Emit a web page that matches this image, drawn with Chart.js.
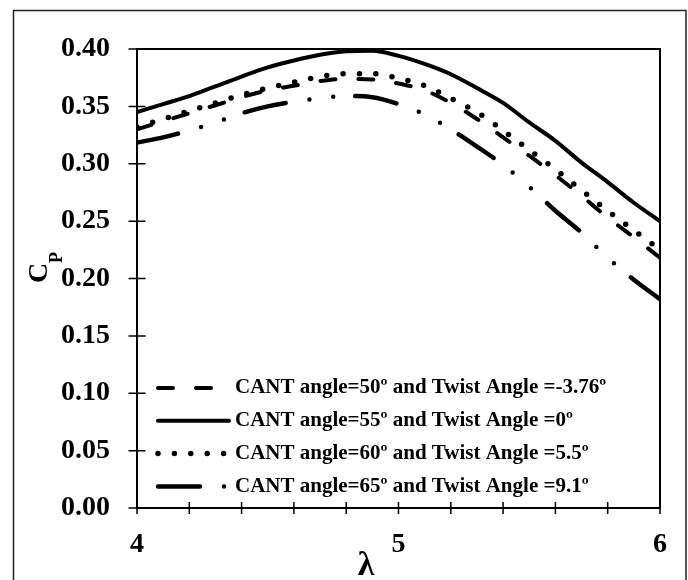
<!DOCTYPE html>
<html lang="en">
<head>
    <meta charset="UTF-8">
    <title>Cp vs tip speed ratio</title>
    <script src="https://cdn.jsdelivr.net/npm/chart.js"></script>
    <style>
        body { margin: 0; background: #fff; }
    </style>
</head>
<body>
    <canvas id="myChart" width="688" height="580"></canvas>
    <script>
        // tip speed ratio
        var lambdaValues = [4.0, 4.1, 4.2, 4.3, 4.4, 4.5, 4.6, 4.7, 4.8, 4.9, 5.0,
                            5.1, 5.2, 5.3, 5.4, 5.5, 5.6, 5.7, 5.8, 5.9, 6.0];
        // power coefficient, one array per cant angle
        var cpCant50 = [0.330, 0.337, 0.344, 0.351, 0.358, 0.364, 0.368, 0.372, 0.374, 0.3735, 0.370,
                        0.364, 0.353, 0.339, 0.323, 0.307, 0.290, 0.272, 0.253, 0.236, 0.218];
        var cpCant55 = [0.345, 0.352, 0.359, 0.3675, 0.376, 0.384, 0.390, 0.395, 0.398, 0.3985, 0.394,
                        0.387, 0.378, 0.366, 0.353, 0.336, 0.320, 0.301, 0.284, 0.266, 0.250];
        var cpCant60 = [0.332, 0.339, 0.346, 0.353, 0.360, 0.366, 0.371, 0.376, 0.3785, 0.3785, 0.3745,
                        0.368, 0.357, 0.345, 0.329, 0.312, 0.295, 0.277, 0.259, 0.242, 0.225];
        var cpCant65 = [0.3185, 0.323, 0.329, 0.336, 0.344, 0.350, 0.354, 0.357, 0.359, 0.358, 0.352,
                        0.343, 0.330, 0.315, 0.299, 0.280, 0.259, 0.240, 0.218, 0.199, 0.182];
        var seriesLabels = [
            'CANT angle=50\u00ba and Twist Angle =-3.76\u00ba',
            'CANT angle=55\u00ba and Twist Angle =0\u00ba',
            'CANT angle=60\u00ba and Twist Angle =5.5\u00ba',
            'CANT angle=65\u00ba and Twist Angle =9.1\u00ba'
        ];
        var xTickLabels = [4, 5, 6];

        var serif = "'Liberation Serif', 'Times New Roman', serif";

        function toPoints(values) {
            return values.map(function(v, i) { return { x: lambdaValues[i], y: v }; });
        }

        // frame, crossing ticks, legend inside the plot and axis titles
        var decor = {
            id: 'decor',
            beforeDraw: function(chart) {
                var ctx = chart.ctx;
                ctx.save();
                ctx.fillStyle = '#fff';
                ctx.fillRect(0, 0, chart.width, chart.height);
                ctx.strokeStyle = '#222';
                ctx.lineWidth = 1.5;
                ctx.strokeRect(13.5, 10.5, 672.5, 620);
                ctx.restore();
            },
            afterDraw: function(chart) {
                var ctx = chart.ctx, a = chart.chartArea;
                var xs = chart.scales.x, ys = chart.scales.y;
                ctx.save();
                ctx.strokeStyle = '#000';
                ctx.fillStyle = '#000';
                ctx.lineWidth = 2;
                ctx.strokeRect(a.left, a.top, a.right - a.left, a.bottom - a.top);

                ctx.beginPath();
                ys.ticks.forEach(function(t) {
                    var py = ys.getPixelForValue(t.value);
                    ctx.moveTo(a.left - 8.5, py);
                    ctx.lineTo(a.left + 8.5, py);
                });
                xs.ticks.forEach(function(t) {
                    var px = xs.getPixelForValue(t.value);
                    ctx.moveTo(px, a.bottom - 6);
                    ctx.lineTo(px, a.bottom + 6);
                });
                ctx.lineWidth = 1.5;
                ctx.stroke();

                // legend
                ctx.font = 'bold 21px ' + serif;
                ctx.textAlign = 'left';
                ctx.textBaseline = 'middle';
                chart.data.datasets.forEach(function(ds, i) {
                    var y = a.bottom - 120 + i * 32.8;
                    ctx.beginPath();
                    ctx.setLineDash(ds.borderDash || []);
                    ctx.lineDashOffset = 0;
                    ctx.lineCap = 'round';
                    ctx.lineWidth = ds.borderWidth;
                    ctx.moveTo(a.left + 21, y);
                    ctx.lineTo(a.left + 92, y);
                    ctx.stroke();
                    ctx.setLineDash([]);
                    ctx.fillText(ds.label, a.left + 98, y);
                });

                // x title
                ctx.font = 'bold 34px ' + serif;
                ctx.textAlign = 'center';
                ctx.textBaseline = 'alphabetic';
                ctx.fillText('\u03bb', a.left + 229, a.bottom + 67);

                // y title with subscript
                ctx.translate(47, 283);
                ctx.rotate(-Math.PI / 2);
                ctx.textAlign = 'left';
                ctx.font = 'bold 28px ' + serif;
                ctx.fillText('C', 0, 0);
                ctx.font = 'bold 18px ' + serif;
                ctx.fillText('P', 20, 15);
                ctx.restore();
            }
        };

        var ctx = document.getElementById('myChart').getContext('2d');
        var myChart = new Chart(ctx, {
            type: 'line',
            data: {
                datasets: [{
                    label: seriesLabels[0],
                    data: toPoints(cpCant50),
                    borderColor: '#000',
                    borderWidth: 4,
                    borderDash: [15, 23],
                    borderCapStyle: 'round'
                }, {
                    label: seriesLabels[1],
                    data: toPoints(cpCant55),
                    borderColor: '#000',
                    borderWidth: 4
                }, {
                    label: seriesLabels[2],
                    data: toPoints(cpCant60),
                    borderColor: '#000',
                    borderWidth: 5.5,
                    borderDash: [0, 16.4],
                    borderCapStyle: 'round'
                }, {
                    label: seriesLabels[3],
                    data: toPoints(cpCant65),
                    borderColor: '#000',
                    borderWidth: 4.5,
                    borderDash: [42, 24, 0, 24, 0, 22],
                    borderCapStyle: 'round'
                }]
            },
            options: {
                responsive: false,
                animation: false,
                layout: { padding: { top: 49, right: 28, left: 0, bottom: 0 } },
                elements: {
                    point: { radius: 0 },
                    line: { cubicInterpolationMode: 'monotone', fill: false }
                },
                plugins: {
                    legend: { display: false },
                    tooltip: { enabled: false }
                },
                scales: {
                    x: {
                        type: 'linear',
                        min: 4,
                        max: 6,
                        grid: { display: false, drawTicks: false },
                        border: { display: false },
                        ticks: {
                            stepSize: 0.2,
                            autoSkip: false,
                            maxRotation: 0,
                            padding: 20,
                            color: '#000',
                            font: { family: serif, size: 28, weight: 'bold' },
                            callback: function(v) {
                                var r = Math.round(v * 10) / 10;
                                return xTickLabels.indexOf(r) >= 0 ? String(r) : '';
                            }
                        },
                        afterFit: function(s) { s.height = 72; }
                    },
                    y: {
                        min: 0,
                        max: 0.4,
                        grid: { display: false, drawTicks: false },
                        border: { display: false },
                        ticks: {
                            stepSize: 0.05,
                            autoSkip: false,
                            padding: 27,
                            color: '#000',
                            font: { family: serif, size: 28, weight: 'bold' },
                            callback: function(v) { return v.toFixed(2); }
                        },
                        afterFit: function(s) { s.width = 137; }
                    }
                }
            },
            plugins: [decor]
        });
    </script>
</body>
</html>
